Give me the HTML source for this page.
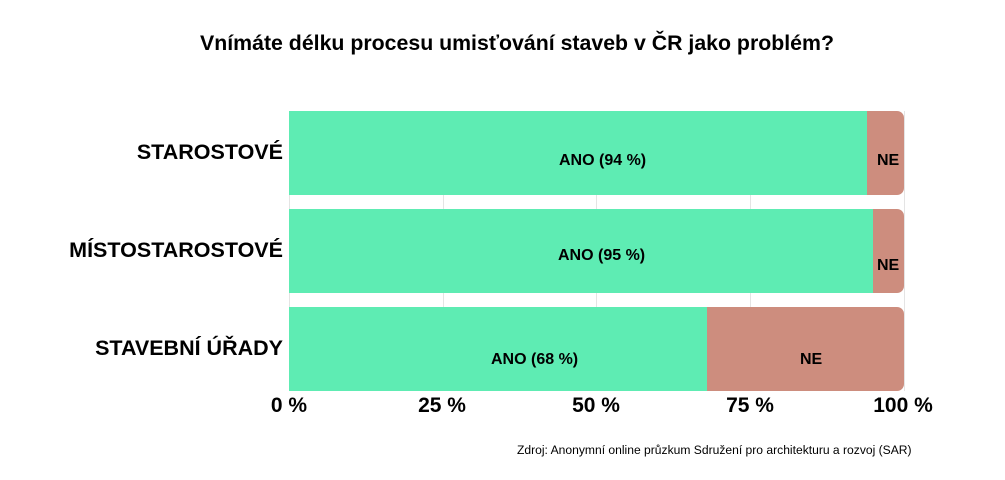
<!DOCTYPE html>
<html><head><meta charset="utf-8"><style>
html,body{margin:0;padding:0;background:#fff;}
body{width:1005px;height:480px;position:relative;overflow:hidden;font-family:"Liberation Sans",Arial,sans-serif;color:#000;}
.t{position:absolute;white-space:nowrap;font-weight:bold;}
</style></head><body>
<svg width="1005" height="480" style="position:absolute;left:0;top:0">
  <g stroke="#e4e4e4" stroke-width="1">
    <line x1="289.5" y1="111" x2="289.5" y2="391"/>
    <line x1="443.5" y1="111" x2="443.5" y2="391"/>
    <line x1="596.5" y1="111" x2="596.5" y2="391"/>
    <line x1="750.5" y1="111" x2="750.5" y2="391"/>
    <line x1="904.5" y1="111" x2="904.5" y2="391"/>
  </g>
  <defs>
    <clipPath id="c1"><rect x="289" y="111" width="615" height="84" rx="7"/><rect x="289" y="111" width="20" height="84"/></clipPath>
    <clipPath id="c2"><rect x="289" y="209" width="615" height="84" rx="7"/><rect x="289" y="209" width="20" height="84"/></clipPath>
    <clipPath id="c3"><rect x="289" y="307" width="615" height="84" rx="7"/><rect x="289" y="307" width="20" height="84"/></clipPath>
  </defs>
  <g clip-path="url(#c1)"><rect x="289" y="111" width="615" height="84" fill="#CD8D7E"/><rect x="289" y="111" width="578" height="84" fill="#5EECB3"/></g>
  <g clip-path="url(#c2)"><rect x="289" y="209" width="615" height="84" fill="#CD8D7E"/><rect x="289" y="209" width="584" height="84" fill="#5EECB3"/></g>
  <g clip-path="url(#c3)"><rect x="289" y="307" width="615" height="84" fill="#CD8D7E"/><rect x="289" y="307" width="418" height="84" fill="#5EECB3"/></g>
</svg>
<div class="t" style="left:0;width:1034px;text-align:center;top:31px;font-size:21.3px;">Vnímáte délku procesu umisťování staveb v ČR jako problém?</div>
<div class="t" style="right:722px;top:140px;font-size:21.5px;">STAROSTOVÉ</div>
<div class="t" style="right:722px;top:238px;font-size:21.5px;">MÍSTOSTAROSTOVÉ</div>
<div class="t" style="right:722px;top:336px;font-size:21.5px;">STAVEBNÍ ÚŘADY</div>
<div class="t" style="left:559px;top:152px;font-size:16px;">ANO (94 %)</div>
<div class="t" style="left:558px;top:247px;font-size:16px;">ANO (95 %)</div>
<div class="t" style="left:491px;top:351px;font-size:16px;">ANO (68 %)</div>
<div class="t" style="left:877px;top:152px;font-size:16px;">NE</div>
<div class="t" style="left:877px;top:257px;font-size:16px;">NE</div>
<div class="t" style="left:800px;top:351px;font-size:16px;">NE</div>
<div class="t" style="left:239px;width:100px;text-align:center;top:394px;font-size:21px;">0 %</div>
<div class="t" style="left:392px;width:100px;text-align:center;top:394px;font-size:21px;">25 %</div>
<div class="t" style="left:546px;width:100px;text-align:center;top:394px;font-size:21px;">50 %</div>
<div class="t" style="left:700px;width:100px;text-align:center;top:394px;font-size:21px;">75 %</div>
<div class="t" style="left:853px;width:100px;text-align:center;top:394px;font-size:21px;">100 %</div>
<div style="position:absolute;left:517px;top:443px;font-size:12.1px;white-space:nowrap;">Zdroj: Anonymní online průzkum Sdružení pro architekturu a rozvoj (SAR)</div>
</body></html>
